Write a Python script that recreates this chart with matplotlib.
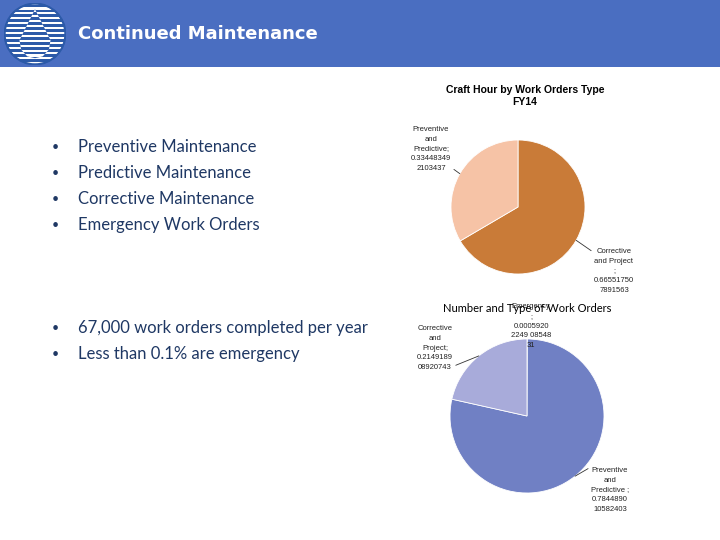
import numpy as np
import matplotlib
matplotlib.use("Agg")
import matplotlib.pyplot as plt
from matplotlib.patches import Circle, Polygon, Rectangle

# data
bullets_top = ["Preventive Maintenance", "Predictive Maintenance",
               "Corrective Maintenance", "Emergency Work Orders"]
bullets_bottom = ["67,000 work orders completed per year",
                  "Less than 0.1% are emergency"]

craft_names = ["Corrective and Project", "Preventive and Predictive"]
craft_values = [0.665517507891563, 0.334483492103437]
craft_labels = ["Corrective\nand Project\n;\n0.66551750\n7891563",
                "Preventive\nand\nPredictive;\n0.33448349\n2103437"]
craft_colors = ["#C97B38", "#F6C3A6"]

wo_names = ["Emergency", "Preventive and Predictive", "Corrective and Project"]
wo_values = [0.000592022490854831, 0.784489010582403, 0.214918908920743]
wo_labels = ["Emergency\n;\n0.0005920\n2249 08548\n31",
             "Preventive\nand\nPredictive ;\n0.7844890\n10582403",
             "Corrective\nand\nProject;\n0.2149189\n08920743"]
wo_colors = ["#4F5FA8", "#7080C4", "#A8ABDA"]

W, H = 720, 540
fig = plt.figure(figsize=(7.2, 5.4), dpi=100)
fig.patch.set_facecolor("white")

def fx(x):
    return x / W

def fy(y):
    return 1 - y / H

# header band
fig.patches.append(Rectangle((0, fy(67)), 1, 67 / H, transform=fig.transFigure,
                             facecolor="#4A6EC1", edgecolor="none", zorder=-10))
fig.text(fx(78), fy(34), "Continued Maintenance", color="white", fontsize=13,
         fontweight="bold", family="DejaVu Sans", va="center", ha="left")

# logo
lax = fig.add_axes([fx(4), fy(65), 62 / W, 62 / H])
lax.set_xlim(-1, 1)
lax.set_ylim(-1, 1)
lax.axis("off")
circ = Circle((0, 0), 0.98, facecolor="white", edgecolor="#2C5AA8", lw=0.8)
lax.add_patch(circ)
drop = Polygon([[0, 0.8], [-0.5, -0.2], [-0.45, -0.5], [-0.25, -0.72], [0, -0.78],
                [0.25, -0.72], [0.45, -0.5], [0.5, -0.2]], closed=True,
               facecolor="white", edgecolor="none")
for yy in np.arange(-0.9, 0.95, 0.16):
    r = lax.add_patch(Rectangle((-1, yy), 2, 0.09, facecolor="#2C5AA8", edgecolor="none"))
    r.set_clip_path(circ)
lax.add_patch(drop)
for yy in np.arange(-0.82, 0.85, 0.16):
    r = lax.add_patch(Rectangle((-1, yy), 2, 0.08, facecolor="#2C5AA8", edgecolor="none"))
    r.set_clip_path(drop)
lax.add_patch(Circle((0, 0), 0.98, facecolor="none", edgecolor="#2C5AA8", lw=1.5))

# bullet lists
txt_color = "#1F3864"
for i, b in enumerate(bullets_top):
    y = 147 + i * 26
    fig.text(fx(52), fy(y), "\u2022", color=txt_color, fontsize=9, va="center", family="Lato")
    fig.text(fx(78), fy(y), b, color=txt_color, fontsize=12, va="center", family="Lato")
for i, b in enumerate(bullets_bottom):
    y = 328 + i * 26
    fig.text(fx(52), fy(y), "\u2022", color=txt_color, fontsize=9, va="center", family="Lato")
    fig.text(fx(78), fy(y), b, color=txt_color, fontsize=12, va="center", family="Lato")


def pie_at(cx, cy, r, values, colors):
    ax = fig.add_axes([fx(cx - r), fy(cy + r), 2 * r / W, 2 * r / H])
    wedges, _ = ax.pie(values, colors=colors, startangle=90, counterclock=False,
                       radius=1, wedgeprops=dict(edgecolor="white", linewidth=0.6))
    ax.set_xlim(-1, 1)
    ax.set_ylim(-1, 1)
    ax.set_aspect("equal")
    ax.axis("off")
    return ax, wedges


def label(ax, wedge, text, tx, ty, lx=None, ly=None):
    ang = np.deg2rad((wedge.theta1 + wedge.theta2) / 2)
    arrow = None
    if lx is not None:
        arrow = dict(arrowstyle="-", color="#333333", lw=0.6,
                     shrinkA=0, shrinkB=0, relpos=(lx, ly))
    ax.annotate(text, xy=(np.cos(ang), np.sin(ang)), xycoords="data",
                xytext=(tx / W, 1 - ty / H), textcoords="figure fraction",
                fontsize=5.5, ha="center", va="center", color="#222222",
                linespacing=1.55, family="Liberation Sans",
                arrowprops=arrow, annotation_clip=False)

# pie 1
fig.text(fx(525), fy(96), "Craft Hour by Work Orders Type\nFY14", ha="center",
         va="center", fontsize=7.5, fontweight="bold", family="Liberation Sans",
         linespacing=1.3)
ax1, w1 = pie_at(518, 207, 67, craft_values, craft_colors)
label(ax1, w1[0], craft_labels[0], 614, 271, 0.0, 0.9)
label(ax1, w1[1], craft_labels[1], 431, 149, 1.0, 0.1)

# pie 2
fig.text(fx(527), fy(308), "Number and Type of Work Orders", ha="center",
         va="center", fontsize=8, family="Lato")
ax2, w2 = pie_at(527, 416, 77, wo_values, wo_colors)
label(ax2, w2[0], wo_labels[0], 531, 326)
label(ax2, w2[1], wo_labels[1], 610, 490, 0.0, 1.0)
label(ax2, w2[2], wo_labels[2], 435, 348, 1.0, 0.1)

fig.savefig("out.png", dpi=100)
